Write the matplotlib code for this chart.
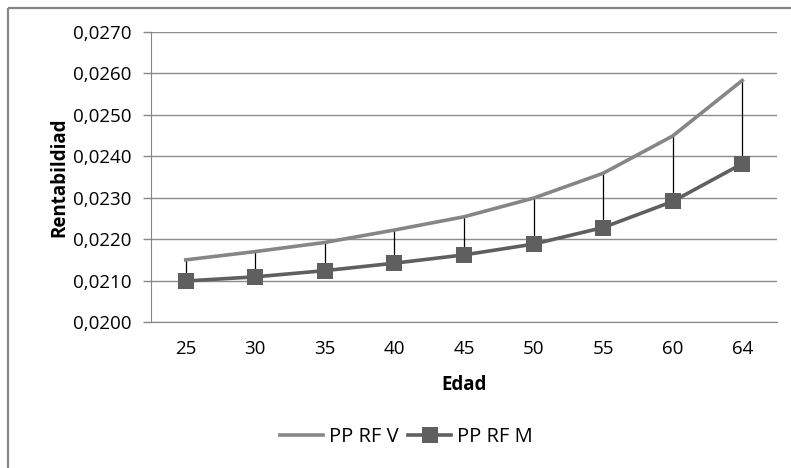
import matplotlib.pyplot as plt
from matplotlib.lines import Line2D

plt.rcParams['font.family'] = ['Open Sans', 'DejaVu Sans']

# datos
edades = ['25', '30', '35', '40', '45', '50', '55', '60', '64']
pp_rf_v = [0.02150, 0.02170, 0.02192, 0.02222, 0.02254, 0.02299, 0.02359, 0.02449, 0.02583]
pp_rf_m = [0.02099, 0.02109, 0.02124, 0.02142, 0.02162, 0.02188, 0.02228, 0.02291, 0.02382]
yticks = [0.0200, 0.0210, 0.0220, 0.0230, 0.0240, 0.0250, 0.0260, 0.0270]

W, H = 791, 468
fig = plt.figure(figsize=(W / 100, H / 100), dpi=100)

# marco exterior (solo arriba e izquierda visibles)
fig.add_artist(Line2D([8 / W, 8 / W], [0, 1 - 7.5 / H], transform=fig.transFigure,
                      color='#868686', lw=1.6, solid_capstyle='butt'))
fig.add_artist(Line2D([8 / W, 1], [1 - 7.5 / H, 1 - 7.5 / H], transform=fig.transFigure,
                      color='#868686', lw=1.6, solid_capstyle='butt'))

# area de trazado
left, right, top, bottom = 151, 777, 32, 322
ax = fig.add_axes([left / W, 1 - bottom / H, (right - left) / W, (bottom - top) / H])

x = list(range(len(edades)))

# lineas max-min
ax.vlines(x, pp_rf_m, pp_rf_v, color='black', lw=0.9, zorder=2)

ax.plot(x, pp_rf_v, color='#868686', lw=2.6, zorder=3, label='PP RF V')
ax.plot(x, pp_rf_m, color='#5f5f5f', lw=2.6, marker='s', markersize=12,
        markeredgewidth=0, zorder=4, label='PP RF M')

fs = 13.5
ax.set_xlim(-0.5, len(edades) - 0.5)
ax.set_ylim(0.0200, 0.0270)
ax.set_xticks(x)
ax.set_xticklabels(edades)
ax.set_yticks(yticks)
ax.set_yticklabels([('%.4f' % v).replace('.', ',') for v in yticks])
ax.tick_params(axis='x', length=0, pad=13, labelsize=fs, colors='black')
ax.tick_params(axis='y', length=6, width=1, color='#868686', pad=8, labelsize=fs)
ax.yaxis.grid(True, color='#8c8c8c', lw=1)
ax.set_axisbelow(True)

for s in ['top', 'right']:
    ax.spines[s].set_visible(False)
ax.spines['left'].set_color('#868686')
ax.spines['bottom'].set_color('#868686')

ax.set_xlabel('Edad', fontsize=fs, fontweight='bold', labelpad=12)
ax.set_ylabel('Rentabildiad', fontsize=fs, fontweight='bold', labelpad=3)

ax.legend(loc='center', bbox_to_anchor=(0.408, -0.395), ncol=2, frameon=False,
          fontsize=14.5, handlelength=2.15, handletextpad=0.3, columnspacing=0.45)

fig.savefig('out.png', dpi=100)
